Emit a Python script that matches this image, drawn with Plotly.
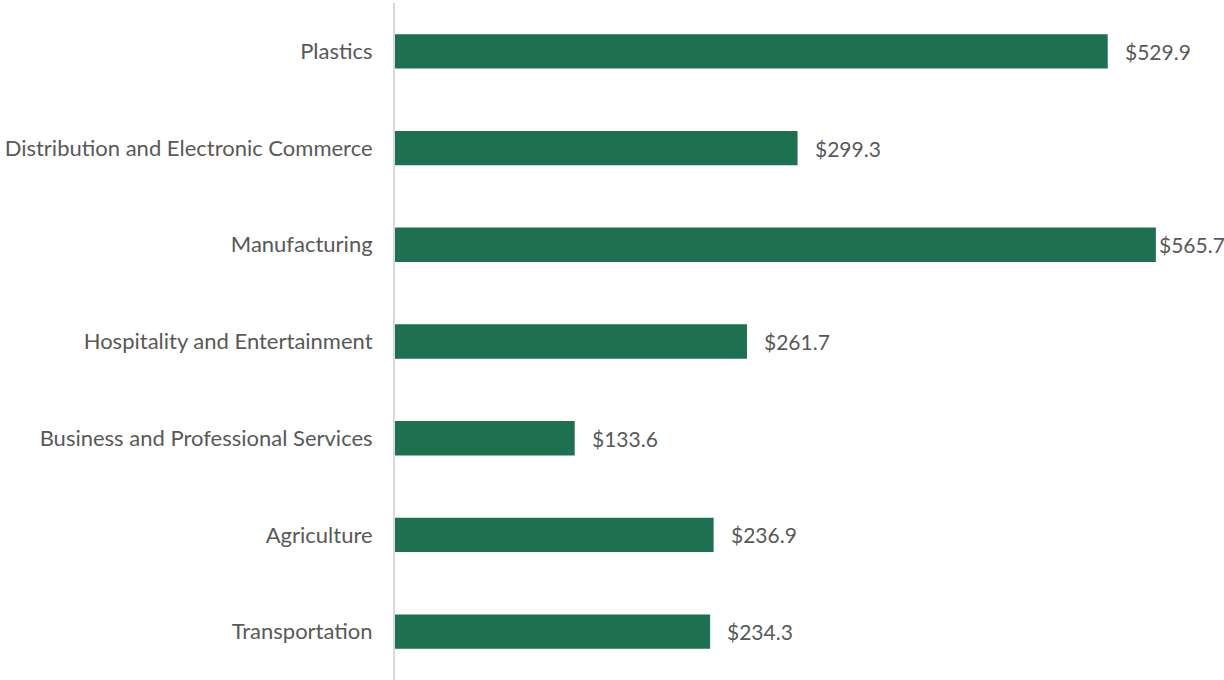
import plotly.graph_objects as go

# Industry totals (USD), listed top to bottom
categories = [
    "Plastics",
    "Distribution and Electronic Commerce",
    "Manufacturing",
    "Hospitality and Entertainment",
    "Business and Professional Services",
    "Agriculture",
    "Transportation",
]
values = [529.9, 299.3, 565.7, 261.7, 133.6, 236.9, 234.3]
value_labels = ["$529.9", "$299.3", "$565.7", "$261.7", "$133.6", "$236.9", "$234.3"]

BAR_COLOR = "#1d7150"
TEXT_COLOR = "#595959"
FONT = "Lato"

fig = go.Figure(
    go.Bar(
        x=values,
        y=categories,
        orientation="h",
        marker=dict(color=BAR_COLOR, line=dict(width=0)),
        width=0.355,
        hoverinfo="skip",
    )
)

# Value labels sit just right of each bar; the widest bar's label hugs its end
for cat, val, lab in zip(categories, values, value_labels):
    shift = 1 if val == max(values) else 15
    fig.add_annotation(
        x=val, y=cat, text=lab, showarrow=False,
        xanchor="left", yanchor="middle", xshift=shift,
        font=dict(family=FONT, size=21, color=TEXT_COLOR),
    )

fig.update_layout(
    width=1224,
    height=680,
    margin=dict(l=395, r=22, t=3, b=0),
    paper_bgcolor="white",
    plot_bgcolor="white",
    showlegend=False,
    font=dict(family=FONT, size=22, color=TEXT_COLOR),
    xaxis=dict(range=[0, 600], visible=False, fixedrange=True),
    yaxis=dict(
        categoryorder="array",
        categoryarray=categories[::-1],
        showgrid=False,
        zeroline=False,
        showline=True,
        linecolor="#d9d9d9",
        linewidth=2,
        ticks="",
        ticklabelstandoff=16,
        tickfont=dict(family=FONT, size=22, color=TEXT_COLOR),
        fixedrange=True,
    ),
)

fig.write_html("out.html", config={"displayModeBar": False})
